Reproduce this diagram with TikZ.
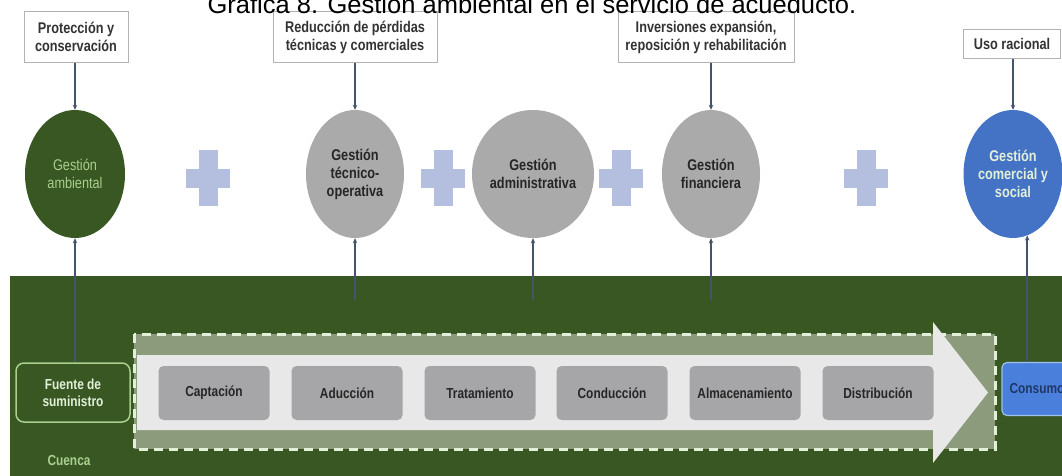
\documentclass[tikz,border=0pt]{standalone}
\usepackage{fontspec}
\setmainfont{Liberation Sans}
\newfontfamily\narrowsans[FakeStretch=0.82]{Liberation Sans}
\usetikzlibrary{shapes.geometric,arrows.meta}

\definecolor{basin}{HTML}{385723}
\definecolor{leaf}{HTML}{A9D08E}
\definecolor{paleleaf}{HTML}{E2F0D9}
\definecolor{mgray}{HTML}{AAAAAA}
\definecolor{pgray}{HTML}{A6A6A8}
\definecolor{royal}{HTML}{4472C4}
\definecolor{brightblue}{HTML}{4A7FDC}
\definecolor{skyline}{HTML}{9DC3E6}
\definecolor{navy}{HTML}{1F3864}
\definecolor{plus}{HTML}{B4BFE0}
\definecolor{slate}{HTML}{44546A}
\definecolor{band}{HTML}{8D9B7D}
\definecolor{flow}{HTML}{E8E8E8}

\tikzset{
  lbl/.style={font=\narrowsans\bfseries\fontsize{14.5}{17}\selectfont},
  biglbl/.style={font=\narrowsans\bfseries\fontsize{15.5}{18}\selectfont},
  topbox/.style={biglbl, draw=gray!60, fill=white, text=black!80, align=center,
    inner sep=2pt, minimum height=51pt},
  mgmt/.style={biglbl, ellipse, inner sep=0pt, minimum width=98pt,
    minimum height=128pt, align=center},
  grayoval/.style={mgmt, fill=mgray, text=black!85},
  stage/.style={lbl, rounded corners=5pt, fill=pgray, text=black!85,
    minimum width=111pt, minimum height=54pt, inner sep=0pt},
  conn/.style={draw=slate, line width=1.6pt, -{Stealth[length=5pt,width=4.5pt]}},
  plussign/.pic={
    \fill[plus] (-9.5,-28) rectangle (9.5,28);
    \fill[plus] (-22,-9.5) rectangle (22,9.5);
  }
}

\begin{document}
\begin{tikzpicture}[x=1pt,y=-1pt]
\useasboundingbox (0,0) rectangle (1062,476);
\clip (0,0) rectangle (1062,476);
\fill[white] (0,0) rectangle (1062,476);

% basin ground
\fill[basin] (10,276) rectangle (1062,476);

% process band with the flow arrow
\draw[paleleaf, line width=3pt, dash pattern=on 9pt off 6pt, fill=band]
  (134,334) rectangle (995,449);
\fill[flow] (137,355) -- (933,355) -- (933,322) -- (988,392.5) -- (933,463)
  -- (933,430) -- (137,430) -- cycle;

% stages of the supply system
\node[stage] (cap) at (214,393) {Captación};
\node[stage] (adu) at (347,393) {Aducción};
\node[stage] (tra) at (480,393) {Tratamiento};
\node[stage] (con) at (612,393) {Conducción};
\node[stage] (alm) at (745,393) {Almacenamiento};
\node[stage] (dis) at (878,393) {Distribución};

\node[lbl, rounded corners=8pt, draw=leaf, line width=1.5pt, fill=basin, text=paleleaf,
  align=center, minimum width=114pt, minimum height=59pt, inner sep=0pt]
  (src) at (73,392.5) {Fuente de\\suministro};
\node[lbl, rounded corners=5pt, draw=skyline, line width=1.2pt, fill=brightblue, text=navy,
  minimum width=70pt, minimum height=53pt, inner sep=0pt]
  (cons) at (1037,389) {Consumo};
\node[lbl, text=leaf, inner sep=0pt] (basinlbl) at (69,461) {Cuenca};

% management areas
\node[mgmt, fill=basin, text=leaf, font=\narrowsans\fontsize{15.5}{18}\selectfont,
  minimum width=100pt] (amb) at (75,174) {Gestión\\ambiental};
\node[grayoval] (tec) at (355,174) {Gestión\\técnico-\\operativa};
\node[grayoval, minimum width=122pt] (adm) at (533,174) {Gestión\\administrativa};
\node[grayoval] (fin) at (711,174) {Gestión\\financiera};
\node[mgmt, fill=royal, text=paleleaf] (com) at (1013,174) {Gestión\\comercial y\\social};

\pic at (208,178) {plussign};
\pic at (443,178) {plussign};
\pic at (621,178) {plussign};
\pic at (866,178) {plussign};

% goals
\node[topbox, minimum width=104pt] (prot) at (76,37) {Protección y\\conservación};
\node[topbox, minimum width=164pt] (red) at (355,37) {Reducción de pérdidas\\técnicas y comerciales};
\node[topbox, minimum width=176pt] (inv) at (706,37) {Inversiones expansión,\\reposición y rehabilitación};
\node[topbox, minimum width=97pt, minimum height=29pt] (uso) at (1012,44) {Uso racional};

% title, set over the goal boxes
\node[anchor=base, inner sep=0pt, font=\fontsize{25.5}{30}\selectfont] (title) at (532,14)
  {Gráfica 8. Gestión ambiental en el servicio de acueducto.};

% connectors
\draw[conn] (prot.south -| amb.north) -- (amb.north);
\draw[conn] (red.south) -- (tec.north);
\draw[conn] (inv.south -| fin.north) -- (fin.north);
\draw[conn] (uso.south -| com.north) -- (com.north);

\draw[conn] (src.north -| amb.south) -- (amb.south);
\coordinate (r2) at (355,300);
\coordinate (r3) at (533,300);
\coordinate (r4) at (711,300);
\draw[conn] (r2) -- (tec.south);
\draw[conn] (r3) -- (adm.south);
\draw[conn] (r4) -- (fin.south);
\coordinate (c1) at (com.283);
\draw[conn] (c1 |- cons.north) -- (c1);
\end{tikzpicture}
\end{document}
